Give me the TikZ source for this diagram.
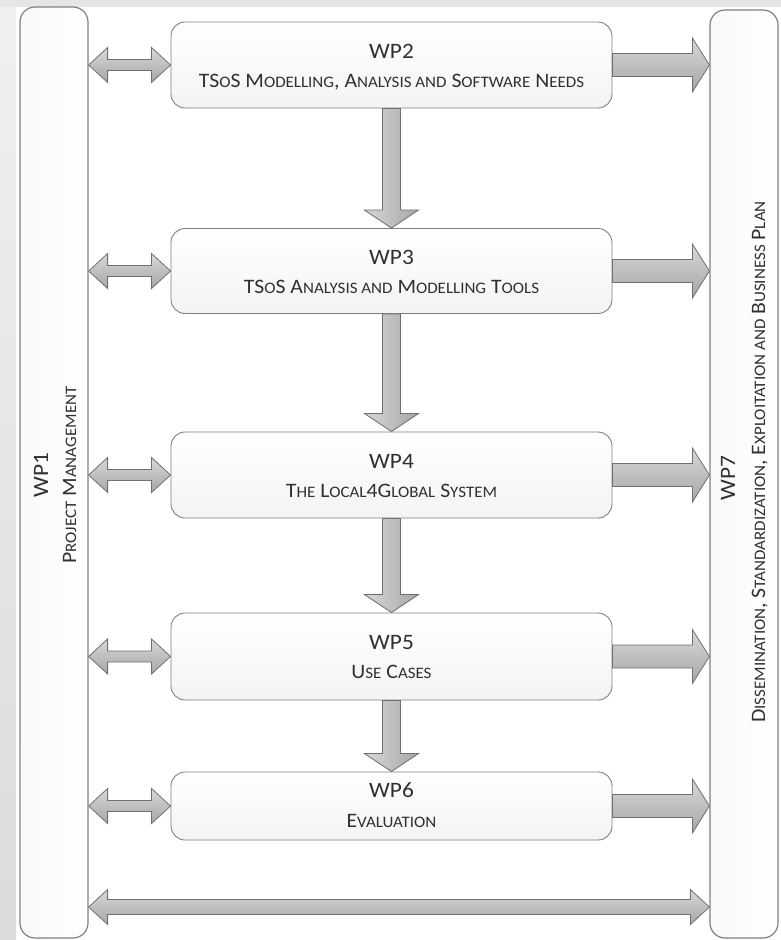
\documentclass[tikz,border=0pt]{standalone}
\usepackage{fontspec}
\setmainfont[FakeStretch=1.06]{Carlito}
\usetikzlibrary{calc}
\definecolor{edgec}{HTML}{808080}
\definecolor{arredge}{HTML}{707070}
\definecolor{arrlight}{HTML}{D8D8D8}
\definecolor{arrdark}{HTML}{A6A6A6}
\definecolor{bggray}{HTML}{E6E6E6}
\definecolor{txtc}{HTML}{303030}
\newcommand\smc[1]{{\fontsize{16}{18}\selectfont #1}}
\tikzset{
  wpbox/.style={draw=edgec, line width=0.9pt, rounded corners=14pt, top color=white, bottom color=gray!9, minimum width=441pt, inner sep=0pt},
  wpframe/.style={draw=edgec, line width=1.2pt, rounded corners=15pt, left color=gray!5, right color=white, minimum width=68pt, inner sep=0pt},
  wptitle/.style={font=\fontsize{22}{26}\selectfont, text=txtc, anchor=base, inner sep=0pt},
  wpsub/.style={font=\fontsize{20.5}{24}\selectfont, text=txtc, anchor=base, inner sep=0pt},
  blockarrow/.style={draw=arredge, line width=0.8pt, line join=miter},
}
% down arrow from box #1 to box #2
\newcommand\downarr[2]{%
  \path[blockarrow, left color=arrlight, right color=arrdark] let \p1=(#1.south), \p2=(#2.north) in
    (\x1-9pt,\y1) -- (\x1+9pt,\y1) -- (\x1+9pt,\y2+18pt) -- (\x1+27pt,\y2+18pt) -- (\x1,\y2)
    -- (\x1-27pt,\y2+18pt) -- (\x1-9pt,\y2+18pt) -- cycle;}
% double arrow from frame #1 to box #2 at the height of #2
\newcommand\lrarr[2]{%
  \path[blockarrow, top color=arrlight, bottom color=arrdark] let \p1=(#1.east), \p2=(#2.west) in
    (\x1,\y2) -- (\x1+19pt,\y2+17.5pt) -- (\x1+19pt,\y2+5.5pt) -- (\x2-19pt,\y2+5.5pt) -- (\x2-19pt,\y2+17.5pt)
    -- (\x2,\y2) -- (\x2-19pt,\y2-17.5pt) -- (\x2-19pt,\y2-5.5pt) -- (\x1+19pt,\y2-5.5pt) -- (\x1+19pt,\y2-17.5pt) -- cycle;}
% arrow from box #1 to frame #2 at the height of #1
\newcommand\rarr[2]{%
  \path[blockarrow, top color=arrlight, bottom color=arrdark] let \p1=(#1.east), \p2=(#2.west) in
    (\x1,\y1+11.5pt) -- (\x2-17pt,\y1+11.5pt) -- (\x2-17pt,\y1+27pt) -- (\x2,\y1)
    -- (\x2-17pt,\y1-27pt) -- (\x2-17pt,\y1-11.5pt) -- (\x1,\y1-11.5pt) -- cycle;}
\begin{document}
\begin{tikzpicture}[x=1pt,y=-1pt]
\useasboundingbox (0,0) rectangle (781,940);
\fill[bggray] (0,0) rectangle (781,940);
\fill[white] (16,7) rectangle (781,940);
\shade[top color=gray!12, bottom color=gray!28] (0,7) rectangle (16,940);

% side frames
\node[wpframe, minimum height=931pt] (wp1) at (54,472.5) {};
\node[wpframe, minimum height=928pt] (wp7) at (744,474) {};

% work package boxes
\node[wpbox, minimum height=86pt] (wp2) at (391.5,65) {};
\node[wpbox, minimum height=85pt] (wp3) at (391.5,271) {};
\node[wpbox, minimum height=86pt] (wp4) at (391.5,475) {};
\node[wpbox, minimum height=87pt] (wp5) at (391.5,656.5) {};
\node[wpbox, minimum height=68pt] (wp6) at (391.5,806) {};

% texts
\node[wptitle] (wp2t) at ([yshift=7pt]wp2.center) {WP2};
\node[wpsub] (wp2s) at ([yshift=-22pt]wp2.center) {TS\smc{O}S M\smc{ODELLING}, A\smc{NALYSIS AND} S\smc{OFTWARE} N\smc{EEDS}};
\node[wptitle] (wp3t) at ([yshift=7pt]wp3.center) {WP3};
\node[wpsub] (wp3s) at ([yshift=-22pt]wp3.center) {TS\smc{O}S A\smc{NALYSIS AND} M\smc{ODELLING} T\smc{OOLS}};
\node[wptitle] (wp4t) at ([yshift=7pt]wp4.center) {WP4};
\node[wpsub] (wp4s) at ([yshift=-22pt]wp4.center) {T\smc{HE} L\smc{OCAL}4G\smc{LOBAL} S\smc{YSTEM}};
\node[wptitle] (wp5t) at ([yshift=7pt]wp5.center) {WP5};
\node[wpsub] (wp5s) at ([yshift=-22pt]wp5.center) {U\smc{SE} C\smc{ASES}};
\node[wptitle] (wp6t) at ([yshift=9pt]wp6.center) {WP6};
\node[wpsub] (wp6s) at ([yshift=-21pt]wp6.center) {E\smc{VALUATION}};

\node[wptitle, rotate=90] (wp1t) at (48,475) {WP1};
\node[wpsub, rotate=90] (wp1s) at (76,475) {P\smc{ROJECT} M\smc{ANAGEMENT}};
\node[wptitle, rotate=90] (wp7t) at (735,478) {WP7};
\node[wpsub, rotate=90] (wp7s) at (765,462) {D\smc{ISSEMINATION}, S\smc{TANDARDIZATION}, E\smc{XPLOITATION AND} B\smc{USINESS} P\smc{LAN}};

% connectors
\downarr{wp2}{wp3}
\downarr{wp3}{wp4}
\downarr{wp4}{wp5}
\downarr{wp5}{wp6}
\lrarr{wp1}{wp2}
\lrarr{wp1}{wp3}
\lrarr{wp1}{wp4}
\lrarr{wp1}{wp5}
\lrarr{wp1}{wp6}
\rarr{wp2}{wp7}
\rarr{wp3}{wp7}
\rarr{wp4}{wp7}
\rarr{wp5}{wp7}
\rarr{wp6}{wp7}
\coordinate (botc) at (400,907);
\path[blockarrow, top color=arrlight, bottom color=arrdark] let \p1=(wp1.east), \p2=(wp7.west), \p3=(botc) in
  (\x1,\y3) -- (\x1+19pt,\y3+17.5pt) -- (\x1+19pt,\y3+7.5pt) -- (\x2-19pt,\y3+7.5pt) -- (\x2-19pt,\y3+17.5pt)
  -- (\x2,\y3) -- (\x2-19pt,\y3-17.5pt) -- (\x2-19pt,\y3-7.5pt) -- (\x1+19pt,\y3-7.5pt) -- (\x1+19pt,\y3-17.5pt) -- cycle;
\end{tikzpicture}
\end{document}
